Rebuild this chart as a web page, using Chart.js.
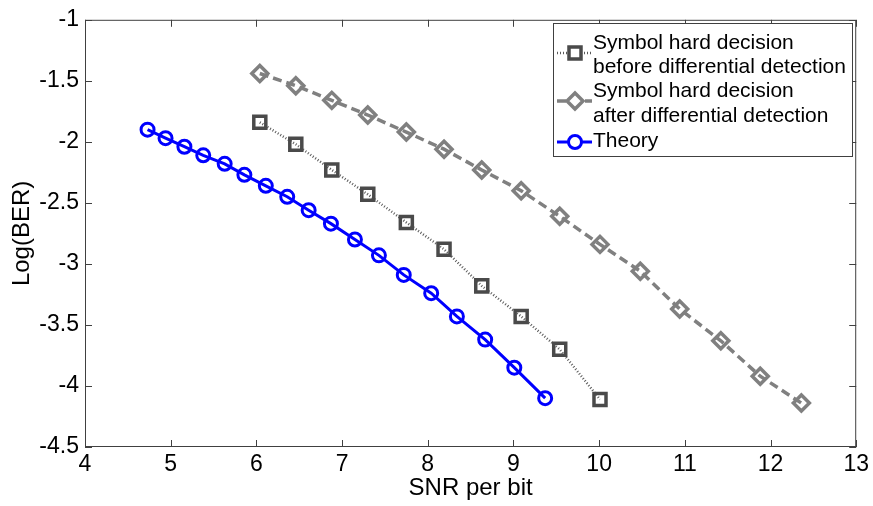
<!DOCTYPE html>
<html>
<head>
<meta charset="utf-8">
<script src="https://cdn.jsdelivr.net/npm/chart.js@4.4.1/dist/chart.umd.min.js"></script>
<style>
    body { margin: 0; background: #fff; }
    #wrap { width: 873px; height: 506px; }
</style>
</head>
<body>
<div id="wrap"><canvas id="chart" width="873" height="506"></canvas></div>
<script>
// values
const snrTheory = [4.73, 4.94, 5.16, 5.38, 5.63, 5.86, 6.11, 6.36, 6.61, 6.87, 7.15, 7.43, 7.72, 8.04, 8.34, 8.67, 9.01, 9.37];
const berTheory = [-1.90, -1.97, -2.04, -2.11, -2.18, -2.27, -2.36, -2.45, -2.56, -2.67, -2.80, -2.93, -3.09, -3.24, -3.43, -3.62, -3.85, -4.10];

const snrHard = [6.04, 6.46, 6.88, 7.30, 7.75, 8.19, 8.63, 9.09, 9.54, 10.01, 10.48, 10.94, 11.42, 11.88, 12.36];
const berBefore = [-1.84, -2.02, -2.23, -2.43, -2.66, -2.88, -3.18, -3.43, -3.70, -4.11];
const berAfter = [-1.44, -1.54, -1.66, -1.78, -1.92, -2.06, -2.23, -2.40, -2.61, -2.84, -3.06, -3.37, -3.63, -3.92, -4.14];

const legendLabels = [
    ["Symbol hard decision", "before differential detection"],
    ["Symbol hard decision", "after differential detection"],
    ["Theory"]
];

const fontFamily = '"Liberation Sans", Arial, sans-serif';

function toPoints(xs, ys) {
    return ys.map((y, i) => ({ x: xs[i], y: y }));
}

// box round the axes with ticks pointing inwards, like the original
const framePlugin = {
    id: "frame",
    afterDatasetsDraw(chart) {
        const { ctx, chartArea: a, scales } = chart;
        const len = 7;
        ctx.save();
        ctx.strokeStyle = "#404040";
        ctx.lineWidth = 1;
        ctx.strokeRect(a.left + 0.5, a.top + 0.5, a.right - a.left - 1, a.bottom - a.top - 1);
        ctx.beginPath();
        for (const t of scales.x.ticks) {
            const px = Math.round(scales.x.getPixelForValue(t.value)) + 0.5;
            ctx.moveTo(px, a.bottom);
            ctx.lineTo(px, a.bottom - len);
            ctx.moveTo(px, a.top);
            ctx.lineTo(px, a.top + len);
        }
        for (const t of scales.y.ticks) {
            const py = Math.round(scales.y.getPixelForValue(t.value)) + 0.5;
            ctx.moveTo(a.left, py);
            ctx.lineTo(a.left + len, py);
            ctx.moveTo(a.right, py);
            ctx.lineTo(a.right - len, py);
        }
        ctx.stroke();
        ctx.restore();
    }
};

// legend with two-line labels, drawn in the top right corner
const legendPlugin = {
    id: "boxLegend",
    afterDraw(chart) {
        const ctx = chart.ctx;
        const box = { x: 553.5, y: 23.5, w: 299, h: 133 };
        const baselines = [[49, 73], [97, 122], [147]];
        const markerY = [53, 101, 142];

        ctx.save();
        ctx.fillStyle = "#fff";
        ctx.fillRect(box.x, box.y, box.w, box.h);
        ctx.strokeStyle = "#404040";
        ctx.lineWidth = 1;
        ctx.strokeRect(box.x, box.y, box.w, box.h);

        chart.data.datasets.forEach((ds, i) => {
            const y = markerY[i];
            ctx.save();
            ctx.strokeStyle = ds.borderColor;
            ctx.lineWidth = ds.borderWidth;
            ctx.setLineDash(ds.borderDash || []);
            ctx.beginPath();
            ctx.moveTo(557, y);
            ctx.lineTo(592, y);
            ctx.stroke();
            ctx.setLineDash([]);
            ctx.strokeStyle = ds.pointBorderColor;
            ctx.lineWidth = ds.pointBorderWidth;
            ctx.fillStyle = "#fff";
            Chart.helpers.drawPoint(ctx, {
                pointStyle: ds.pointStyle,
                radius: ds.pointRadius,
                borderWidth: ds.pointBorderWidth,
                rotation: 0
            }, 575, y);
            ctx.restore();

            ctx.fillStyle = "#000";
            ctx.font = "21px " + fontFamily;
            ctx.textBaseline = "alphabetic";
            legendLabels[i].forEach((line, j) => {
                ctx.fillText(line, 593, baselines[i][j]);
            });
        });
        ctx.restore();
    }
};

const datasets = [
    {
        label: legendLabels[0].join(" "),
        data: toPoints(snrHard, berBefore),
        borderColor: "#5a5a5a",
        borderWidth: 2.5,
        borderDash: [1, 2],
        pointStyle: "rect",
        pointRadius: 8.5,
        pointBorderColor: "#4a4a4a",
        pointBorderWidth: 3.5,
        pointBackgroundColor: "rgba(0,0,0,0)"
    },
    {
        label: legendLabels[1].join(" "),
        data: toPoints(snrHard, berAfter),
        borderColor: "#808080",
        borderWidth: 3.5,
        borderDash: [9, 5],
        pointStyle: "rectRot",
        pointRadius: 8,
        pointBorderColor: "#808080",
        pointBorderWidth: 3.5,
        pointBackgroundColor: "rgba(0,0,0,0)"
    },
    {
        label: legendLabels[2][0],
        data: toPoints(snrTheory, berTheory),
        borderColor: "#0000ff",
        borderWidth: 3,
        pointStyle: "circle",
        pointRadius: 6.5,
        pointBorderColor: "#0000ff",
        pointBorderWidth: 3,
        pointBackgroundColor: "rgba(0,0,0,0)"
    }
];

new Chart(document.getElementById("chart"), {
    type: "line",
    data: { datasets: datasets },
    options: {
        responsive: false,
        animation: false,
        layout: { padding: { left: 0, top: 16, right: 16, bottom: 0 } },
        elements: { line: { tension: 0 } },
        plugins: {
            legend: { display: false },
            tooltip: { enabled: false }
        },
        scales: {
            x: {
                type: "linear",
                min: 4,
                max: 13,
                grid: { display: false, drawTicks: false },
                border: { display: false },
                afterFit: (scale) => { scale.height = 59; },
                ticks: {
                    stepSize: 1,
                    padding: 4,
                    color: "#000",
                    font: { family: fontFamily, size: 23 },
                    callback: (v) => String(v)
                },
                title: {
                    display: true,
                    text: "SNR per bit",
                    color: "#000",
                    font: { family: fontFamily, size: 24, lineHeight: 1.2 },
                    padding: { top: 0, bottom: 3 }
                }
            },
            y: {
                min: -4.5,
                max: -1,
                grid: { display: false, drawTicks: false },
                border: { display: false },
                afterFit: (scale) => { scale.width = 85; },
                ticks: {
                    stepSize: 0.5,
                    padding: 6,
                    color: "#000",
                    font: { family: fontFamily, size: 23 },
                    callback: (v) => String(v)
                },
                title: {
                    display: true,
                    text: "Log(BER)",
                    color: "#000",
                    font: { family: fontFamily, size: 24, lineHeight: 1.2 },
                    padding: { top: 8, bottom: 0 }
                }
            }
        }
    },
    plugins: [framePlugin, legendPlugin]
});
</script>
</body>
</html>
